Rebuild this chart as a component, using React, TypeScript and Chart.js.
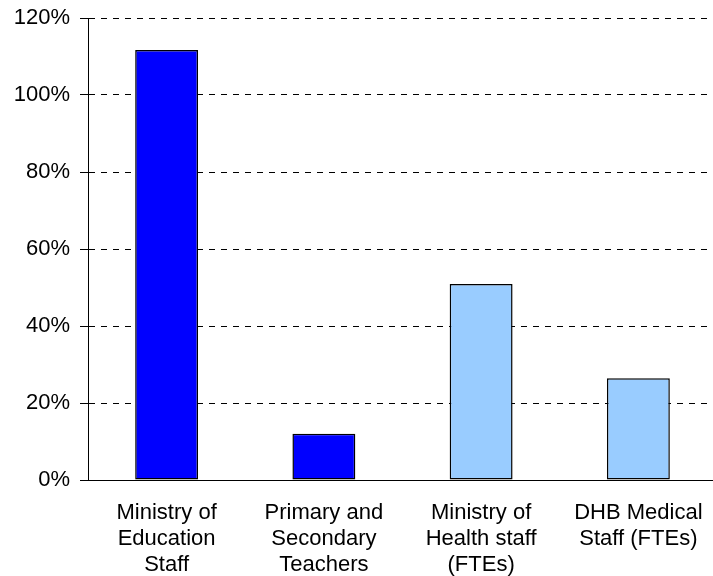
import { useEffect, useRef } from "react";
import { Chart, registerables } from "chart.js";

Chart.register(...registerables);

const categories: string[][] = [
  ["Ministry of", "Education", "Staff"],
  ["Primary and", "Secondary", "Teachers"],
  ["Ministry of", "Health staff", "(FTEs)"],
  ["DHB Medical", "Staff (FTEs)"],
];
const values: number[] = [111.7, 12.0, 50.9, 26.4];
const barColors: string[] = ["#0000FF", "#0000FF", "#99CCFF", "#99CCFF"];
const yMin = 0;
const yMax = 120;
const yStep = 20;

const FONT = "'Liberation Sans', Arial, sans-serif";
const W = 717;
const H = 576;

export default function App() {
  const ref = useRef<HTMLCanvasElement | null>(null);

  useEffect(() => {
    document.body.style.overflow = "hidden";
    const canvas = ref.current;
    if (!canvas) return;
    const chart = new Chart(canvas, {
      type: "bar",
      data: {
        labels: categories,
        datasets: [
          {
            data: values,
            backgroundColor: barColors,
            borderColor: "#000000",
            borderWidth: 1.5,
            borderSkipped: false,
            barPercentage: 0.4,
            categoryPercentage: 1,
          },
        ],
      },
      options: {
        animation: false,
        responsive: false,
        devicePixelRatio: 1,
        layout: { padding: { top: 18, left: 0, right: 0, bottom: 0 } },
        plugins: {
          legend: { display: false },
          tooltip: { enabled: false },
        },
        scales: {
          x: {
            grid: { display: false, drawTicks: false },
            border: { display: true, color: "#000000", width: 1 },
            ticks: {
              color: "#000000",
              padding: 20,
              maxRotation: 0,
              autoSkip: false,
              font: { family: FONT, size: 22, lineHeight: 1.18 },
            },
            afterFit: (scale: any) => {
              scale.height = 96;
              scale.paddingLeft = 0;
              scale.paddingRight = 0;
            },
          },
          y: {
            min: yMin,
            max: yMax,
            grid: {
              display: true,
              color: "#000000",
              lineWidth: 1,
              drawTicks: true,
              tickLength: 8,
              tickColor: "#000000",
              tickBorderDash: [],
            },
            border: { display: true, color: "#000000", width: 1, dash: [6, 6] },
            ticks: {
              stepSize: yStep,
              color: "#000000",
              padding: 10,
              font: { family: FONT, size: 22 },
              callback: (v: any) => `${v}%`,
            },
            afterFit: (scale: any) => {
              scale.width = 88;
              scale.paddingTop = 0;
              scale.paddingBottom = 0;
            },
          },
        },
      },
    });
    return () => chart.destroy();
  }, []);

  return (
    <div style={{ position: "fixed", left: 0, top: 0, width: W, height: H, background: "#fff" }}>
      <canvas ref={ref} width={W} height={H} style={{ width: W, height: H, display: "block" }} />
    </div>
  );
}
